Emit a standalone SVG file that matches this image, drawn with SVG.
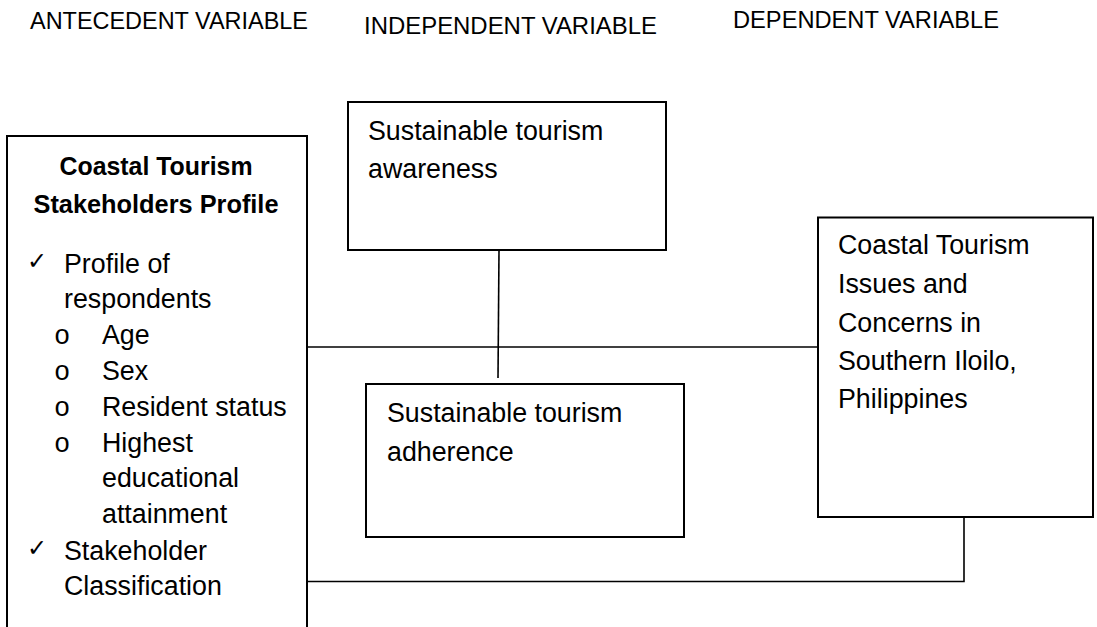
<svg xmlns="http://www.w3.org/2000/svg" width="1097" height="627" viewBox="0 0 1097 627">
<style>
.hdr{font-family:"Liberation Sans",Arial,sans-serif;font-size:23px;fill:#000}
.t{font-family:"Liberation Sans",Arial,sans-serif;font-size:26.8px;fill:#000}
.b{font-family:"Liberation Sans",Arial,sans-serif;font-size:25px;font-weight:bold;fill:#000}
.o{font-family:"Liberation Mono","Courier New",monospace;font-size:27px;fill:#000}
.ck{font-family:"DejaVu Sans",sans-serif;font-size:24px;fill:#000}
.box{fill:#fff;stroke:#000;stroke-width:2}
.con{fill:none;stroke:#000;stroke-width:1.6}
</style>
<rect width="1097" height="627" fill="#fff"/>
<g id="headers">
<text class="hdr" x="30" y="29" textLength="278" lengthAdjust="spacingAndGlyphs">ANTECEDENT VARIABLE</text>
<text class="hdr" x="364" y="34" textLength="293" lengthAdjust="spacingAndGlyphs">INDEPENDENT VARIABLE</text>
<text class="hdr" x="733" y="28" textLength="266" lengthAdjust="spacingAndGlyphs">DEPENDENT VARIABLE</text>
</g>
<g id="connectors">
<line class="con" x1="307" y1="347" x2="818" y2="347"/>
<line class="con" x1="499" y1="250" x2="498" y2="378"/>
<polyline class="con" points="964,517 964,581.5 307,581.5"/>
</g>
<g id="antecedent">
<path class="box" d="M7,628 L7,136 L307,136 L307,628"/>
<text class="b" x="156" y="175" text-anchor="middle" textLength="193" lengthAdjust="spacingAndGlyphs">Coastal Tourism</text>
<text class="b" x="156" y="212.5" text-anchor="middle" textLength="245" lengthAdjust="spacingAndGlyphs">Stakeholders Profile</text>
<text class="ck" x="27" y="269">✓</text>
<text class="t" x="64" y="272.5">Profile of</text>
<text class="t" x="64" y="308">respondents</text>
<text class="o" x="54" y="344">o</text>
<text class="t" x="102" y="344">Age</text>
<text class="o" x="54" y="380">o</text>
<text class="t" x="102" y="380">Sex</text>
<text class="o" x="54" y="416">o</text>
<text class="t" x="102" y="416">Resident status</text>
<text class="o" x="54" y="452">o</text>
<text class="t" x="102" y="452">Highest</text>
<text class="t" x="102" y="487">educational</text>
<text class="t" x="102" y="522.5">attainment</text>
<text class="ck" x="27" y="556">✓</text>
<text class="t" x="64" y="559.5">Stakeholder</text>
<text class="t" x="64" y="595">Classification</text>
</g>
<g id="awareness">
<rect class="box" x="348" y="102" width="318" height="148"/>
<text class="t" x="368" y="140">Sustainable tourism</text>
<text class="t" x="368" y="177.5">awareness</text>
</g>
<g id="adherence">
<rect class="box" x="366" y="384" width="318" height="153"/>
<text class="t" x="387" y="421.5">Sustainable tourism</text>
<text class="t" x="387" y="460.5">adherence</text>
</g>
<g id="dependent">
<rect class="box" x="818" y="217.5" width="275" height="299.5"/>
<text class="t" x="838" y="254">Coastal Tourism</text>
<text class="t" x="838" y="292.5">Issues and</text>
<text class="t" x="838" y="331.5">Concerns in</text>
<text class="t" x="838" y="370">Southern Iloilo,</text>
<text class="t" x="838" y="408">Philippines</text>
</g>
</svg>
